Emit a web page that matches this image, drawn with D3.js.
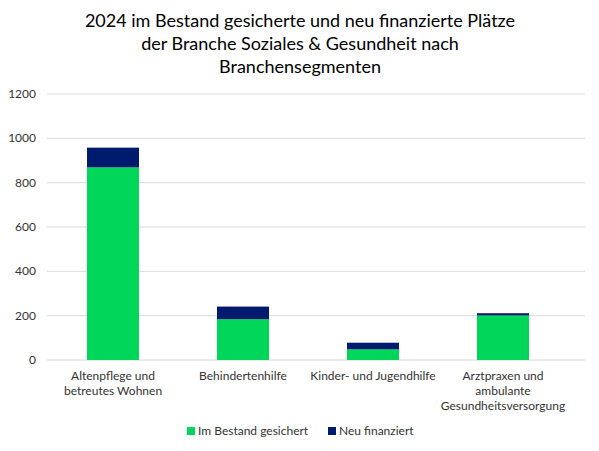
<!DOCTYPE html><html><head><meta charset="utf-8"><script src="https://cdn.jsdelivr.net/npm/d3@7"></script>
<style>body{margin:0;background:#fff}text{font-family:Lato,"Open Sans",sans-serif}</style></head><body><svg width="599" height="451"></svg><script>
const categories=[["Altenpflege und","betreutes Wohnen"],["Behindertenhilfe"],["Kinder- und Jugendhilfe"],["Arztpraxen und","ambulante","Gesundheitsversorgung"]];
const bestand=[869,184,48,201];
const neu=[89,57,30,10];
const yTicks=[0,200,400,600,800,1000,1200];
const svg=d3.select("svg");
const x=d3.scaleBand().domain(d3.range(4)).range([48,568]).paddingInner(0.6).paddingOuter(0.3);
const y=d3.scaleLinear().domain([0,1200]).range([360,94]);
const title=["2024 im Bestand gesicherte und neu finanzierte Plätze","der Branche Soziales & Gesundheit nach","Branchensegmenten"];
title.forEach((t,i)=>svg.append("text").attr("x",300).attr("y",27+i*23).attr("text-anchor","middle").attr("font-size",18).attr("fill","#000").text(t));
yTicks.forEach(v=>{svg.append("line").attr("x1",47).attr("x2",585).attr("y1",y(v)).attr("y2",y(v)).attr("stroke","#d9d9d9");
svg.append("text").attr("x",36).attr("y",y(v)+4).attr("text-anchor","end").attr("font-size",12).attr("fill","#333").text(v);});
const bw=52;
bestand.forEach((v,i)=>{const cx=x(i)+x.bandwidth()/2;
svg.append("rect").attr("x",cx-bw/2).attr("width",bw).attr("y",y(v)).attr("height",y(0)-y(v)).attr("fill","#00d65a");
svg.append("rect").attr("x",cx-bw/2).attr("width",bw).attr("y",y(v+neu[i])).attr("height",y(v)-y(v+neu[i])).attr("fill","#001a6e");
categories[i].forEach((l,j)=>svg.append("text").attr("x",cx).attr("y",380+j*15).attr("text-anchor","middle").attr("font-size",12).attr("fill","#333").text(l));});
const leg=[["Im Bestand gesichert","#00d65a",187],["Neu finanziert","#001a6e",328]];
leg.forEach(([t,c,lx])=>{svg.append("rect").attr("x",lx).attr("y",427).attr("width",8).attr("height",8).attr("fill",c);
svg.append("text").attr("x",lx+11).attr("y",435).attr("font-size",12).attr("fill","#333").text(t);});
</script></body></html>
